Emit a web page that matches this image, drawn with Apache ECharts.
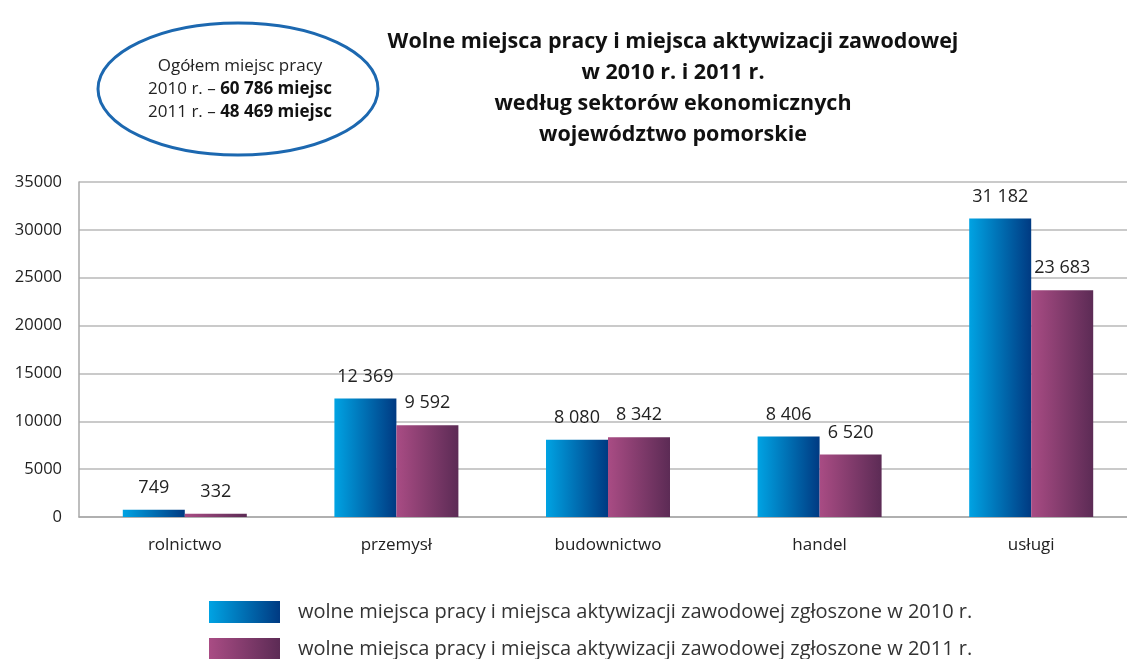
<!DOCTYPE html>
<html><head><meta charset="utf-8">
<script src="https://cdn.jsdelivr.net/npm/echarts@6/dist/echarts.min.js"></script>
<style>html,body{margin:0;padding:0;background:#fff}#c{width:1127px;height:659px}</style>
</head><body><div id="c"></div>
<script>
const categories = ['rolnictwo', 'przemysł', 'budownictwo', 'handel', 'usługi'];
const values2010 = [749, 12369, 8080, 8406, 31182];
const values2011 = [332, 9592, 8342, 6520, 23683];
const seriesNames = [
  'wolne miejsca pracy i miejsca aktywizacji zawodowej zgłoszone w 2010 r.',
  'wolne miejsca pracy i miejsca aktywizacji zawodowej zgłoszone w 2011 r.'
];
const titleLines = ['Wolne miejsca pracy i miejsca aktywizacji zawodowej', 'w 2010 r. i 2011 r.', 'według sektorów ekonomicznych', 'województwo pomorskie'];
const totalsLine1 = 'Ogółem miejsc pracy';
const totals = [['2010 r. – ', '60 786 miejsc'], ['2011 r. – ', '48 469 miejsc']];

const FONT = '"Open Sans", "DejaVu Sans", sans-serif';
const fmt = v => String(v).replace(/\B(?=(\d{3})+(?!\d))/g, ' ');
const blue = new echarts.graphic.LinearGradient(0, 0, 1, 0, [{offset: 0, color: '#00a3e3'}, {offset: 1, color: '#003a82'}]);
const purple = new echarts.graphic.LinearGradient(0, 0, 1, 0, [{offset: 0, color: '#a94c84'}, {offset: 1, color: '#5c2b55'}]);

const chart = echarts.init(document.getElementById('c'), null, {renderer: 'canvas'});
const labelCfg = {show: true, position: 'top', distance: 13, color: '#222', fontSize: 18, fontFamily: FONT, formatter: p => fmt(p.value)};
const legendBase = {
  orient: 'horizontal', left: 204, itemWidth: 71, itemHeight: 22, icon: 'rect',
  textStyle: {fontSize: 20, color: '#333', fontFamily: FONT, padding: [0, 0, 0, 13]}
};
chart.setOption({
  animation: false,
  textStyle: {fontFamily: FONT},
  title: {
    text: titleLines.join('\n'), left: 668, top: 21, textAlign: 'center',
    textStyle: {fontSize: 21.5, fontWeight: 'bold', color: '#111', lineHeight: 31, fontFamily: FONT}
  },
  legend: [
    Object.assign({}, legendBase, {top: 596, data: [seriesNames[0]]}),
    Object.assign({}, legendBase, {top: 633, data: [seriesNames[1]]})
  ],
  grid: {left: 79, width: 1058, top: 182, bottom: 142, containLabel: false, outerBoundsMode: 'none'},
  xAxis: {
    type: 'category', data: categories,
    axisLine: {lineStyle: {color: '#a8a8a8', width: 1.5}},
    axisTick: {show: false},
    axisLabel: {fontSize: 17, color: '#222', margin: 20, fontFamily: FONT}
  },
  yAxis: {
    type: 'value', min: 0, max: 35000, interval: 5000,
    axisLine: {show: true, lineStyle: {color: '#a8a8a8', width: 1.5}},
    axisTick: {show: false},
    splitLine: {lineStyle: {color: '#b8b8b8', width: 1.5}},
    axisLabel: {fontSize: 16.5, color: '#222', margin: 17, fontFamily: FONT, formatter: v => String(v)}
  },
  series: [
    {name: seriesNames[0], type: 'bar', data: values2010, barWidth: 62, barGap: '0%', itemStyle: {color: blue}, label: labelCfg},
    {name: seriesNames[1], type: 'bar', data: values2011, barWidth: 62, barGap: '0%', itemStyle: {color: purple}, label: labelCfg}
  ],
  graphic: [
    {type: 'ellipse', shape: {cx: 238, cy: 89, rx: 140, ry: 66}, style: {fill: '#fff', stroke: '#1c68b0', lineWidth: 3}},
    {type: 'text', x: 240, y: 89, style: {
      text: totalsLine1 + '\n{n|' + totals[0][0] + '}{b|' + totals[0][1] + '}\n{n|' + totals[1][0] + '}{b|' + totals[1][1] + '}',
      align: 'center', verticalAlign: 'middle', fill: '#222', fontSize: 17, fontFamily: FONT, lineHeight: 23,
      rich: {n: {fontSize: 17, fontFamily: FONT, fill: '#222', lineHeight: 23}, b: {fontSize: 17, fontWeight: 'bold', fontFamily: FONT, fill: '#111', lineHeight: 23}}
    }}
  ]
});
</script></body></html>
